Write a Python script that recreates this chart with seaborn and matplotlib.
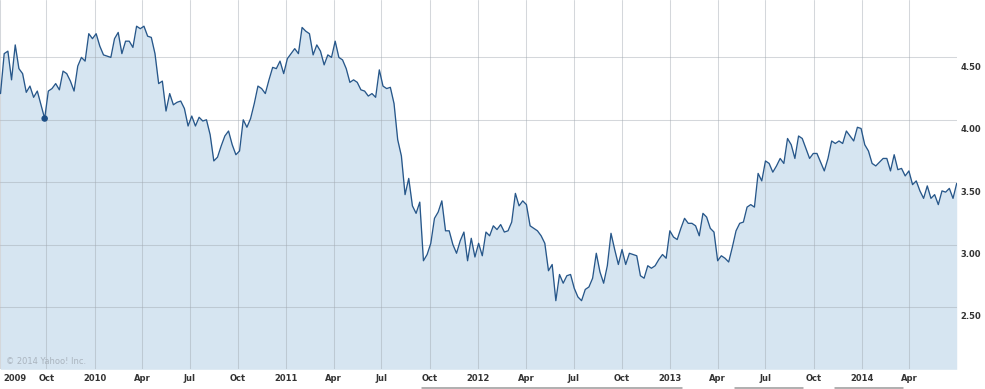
import numpy as np
import pandas as pd
import matplotlib
matplotlib.use("Agg")
import matplotlib.pyplot as plt
import matplotlib.transforms as mtransforms
from matplotlib.lines import Line2D
import seaborn as sns

# ---------------- data ----------------
start_date = "2009-07-06"
n_weeks = 261
prices = [
    4.21, 4.53, 4.55, 4.32, 4.60, 4.41, 4.37, 4.22, 4.27, 4.18,
    4.23, 4.12, 4.01, 4.23, 4.25, 4.29, 4.24, 4.39, 4.37, 4.31,
    4.23, 4.43, 4.50, 4.47, 4.69, 4.65, 4.69, 4.59, 4.52, 4.51,
    4.50, 4.65, 4.70, 4.53, 4.63, 4.63, 4.58, 4.75, 4.73, 4.75,
    4.67, 4.66, 4.53, 4.29, 4.31, 4.07, 4.21, 4.12, 4.14, 4.15,
    4.09, 3.95, 4.03, 3.95, 4.02, 3.99, 4.00, 3.88, 3.67, 3.70,
    3.79, 3.87, 3.91, 3.80, 3.72, 3.75, 4.00, 3.94, 4.01, 4.13,
    4.27, 4.25, 4.21, 4.32, 4.42, 4.41, 4.47, 4.37, 4.49, 4.53,
    4.57, 4.53, 4.74, 4.71, 4.69, 4.52, 4.60, 4.55, 4.44, 4.52,
    4.50, 4.63, 4.50, 4.48, 4.41, 4.30, 4.32, 4.30, 4.24, 4.23,
    4.19, 4.21, 4.18, 4.40, 4.27, 4.25, 4.26, 4.13, 3.84, 3.71,
    3.40, 3.53, 3.31, 3.25, 3.34, 2.87, 2.92, 3.01, 3.21, 3.26,
    3.35, 3.11, 3.11, 3.00, 2.93, 3.03, 3.10, 2.87, 3.05, 2.90,
    3.01, 2.91, 3.10, 3.07, 3.15, 3.12, 3.16, 3.10, 3.11, 3.18,
    3.41, 3.31, 3.35, 3.32, 3.15, 3.13, 3.11, 3.07, 3.01, 2.79,
    2.84, 2.55, 2.76, 2.69, 2.75, 2.76, 2.65, 2.58, 2.55, 2.64,
    2.66, 2.73, 2.93, 2.78, 2.69, 2.83, 3.09, 2.96, 2.84, 2.96,
    2.84, 2.93, 2.92, 2.91, 2.75, 2.73, 2.83, 2.81, 2.83, 2.88,
    2.92, 2.89, 3.11, 3.06, 3.04, 3.13, 3.21, 3.17, 3.17, 3.15,
    3.07, 3.25, 3.22, 3.13, 3.10, 2.87, 2.91, 2.89, 2.86, 2.98,
    3.11, 3.17, 3.18, 3.30, 3.32, 3.30, 3.57, 3.51, 3.67, 3.65,
    3.58, 3.63, 3.69, 3.65, 3.85, 3.80, 3.69, 3.87, 3.85, 3.77,
    3.69, 3.73, 3.73, 3.66, 3.59, 3.69, 3.83, 3.81, 3.83, 3.81,
    3.91, 3.87, 3.83, 3.94, 3.93, 3.80, 3.75, 3.65, 3.63, 3.66,
    3.69, 3.69, 3.59, 3.72, 3.60, 3.61, 3.55, 3.59, 3.48, 3.51,
    3.43, 3.37, 3.47, 3.37, 3.40, 3.32, 3.43, 3.42, 3.45, 3.37,
    3.49,
]
highlight_index = 12

x_tick_dates = [
    "2009-07-05", "2009-10-01", "2010-01-01", "2010-04-01", "2010-07-01",
    "2010-10-01", "2011-01-01", "2011-04-01", "2011-07-01", "2011-10-01",
    "2012-01-01", "2012-04-01", "2012-07-01", "2012-10-01", "2013-01-01",
    "2013-04-01", "2013-07-01", "2013-10-01", "2014-01-01", "2014-04-01",
]
x_tick_labels = [
    "2009", "Oct", "2010", "Apr", "Jul", "Oct", "2011", "Apr", "Jul", "Oct",
    "2012", "Apr", "Jul", "Oct", "2013", "Apr", "Jul", "Oct", "2014", "Apr",
]
y_ticks = [2.50, 3.00, 3.50, 4.00, 4.50]
x_range = ("2009-07-05", "2014-06-30")
y_range = (2.0, 4.96)
watermark = "\u00a9 2014 Yahoo! Inc."

# ---------------- style ----------------
sns.set_style("white")
plt.rcParams["font.family"] = ["DejaVu Sans"]

W, H = 985, 389
fig = plt.figure(figsize=(W / 100, H / 100), dpi=100)
ax_bottom_px = 369.3
ax_right_px = 956.7
ax = fig.add_axes([0, (H - ax_bottom_px) / H, ax_right_px / W, ax_bottom_px / H])

df = pd.DataFrame({
    "date": pd.date_range(start_date, periods=n_weeks, freq="7D"),
    "price": prices,
})

line_color = "#27578a"
fill_color = "#d6e5f1"
grid_color = "#a0a8b0"

ax.fill_between(df["date"], df["price"], y_range[0], color=fill_color,
                linewidth=0, zorder=1)
sns.lineplot(data=df, x="date", y="price", ax=ax, color=line_color,
             linewidth=0.95, zorder=3)
hl = df.iloc[[highlight_index]]
sns.scatterplot(data=hl, x="date", y="price", ax=ax, color="#1d4f86",
                s=22, edgecolor="none", zorder=4)

ax.set_xlim(pd.Timestamp(x_range[0]), pd.Timestamp(x_range[1]))
ax.set_ylim(*y_range)

# grid
for d in x_tick_dates:
    ax.axvline(pd.Timestamp(d), color=grid_color, alpha=0.45, lw=0.75, zorder=2)
for yv in y_ticks:
    ax.axhline(yv, color=grid_color, alpha=0.45, lw=0.75, zorder=2)

for s in ax.spines.values():
    s.set_visible(False)

ax.set_xlabel("")
ax.set_ylabel("")

# x ticks
ax.set_xticks([pd.Timestamp(d) for d in x_tick_dates])
ax.set_xticklabels(x_tick_labels, fontsize=6, fontweight="bold", color="#333333")
ax.tick_params(axis="x", length=0, pad=3.5)
first = ax.get_xticklabels()[0]
first.set_horizontalalignment("left")
first.set_transform(first.get_transform() +
                    mtransforms.ScaledTranslation(0.03, 0, fig.dpi_scale_trans))

# y ticks on the right, drawn slightly below their gridlines
ax.yaxis.tick_right()
ax.set_yticks(y_ticks)
ax.set_yticklabels([f"{v:.2f}" for v in y_ticks], fontsize=6,
                   fontweight="bold", color="#333333")
ax.tick_params(axis="y", length=0, pad=3)
for lab in ax.get_yticklabels():
    lab.set_transform(lab.get_transform() +
                      mtransforms.ScaledTranslation(0, -0.09, fig.dpi_scale_trans))

# watermark
ax.text(6 / ax_right_px, (ax_bottom_px - 362) / ax_bottom_px, watermark,
        transform=ax.transAxes, fontsize=6, color="#aab4be", va="center",
        ha="left", zorder=5)

# faint navigator remnants along the bottom edge
for x1, x2 in [(421.7, 682), (735, 803), (835, 903)]:
    fig.add_artist(Line2D([x1 / W, x2 / W], [1 - 387.5 / H] * 2,
                          transform=fig.transFigure, color="#9a9a9a", lw=1.1))

fig.savefig("out.png", dpi=100)
